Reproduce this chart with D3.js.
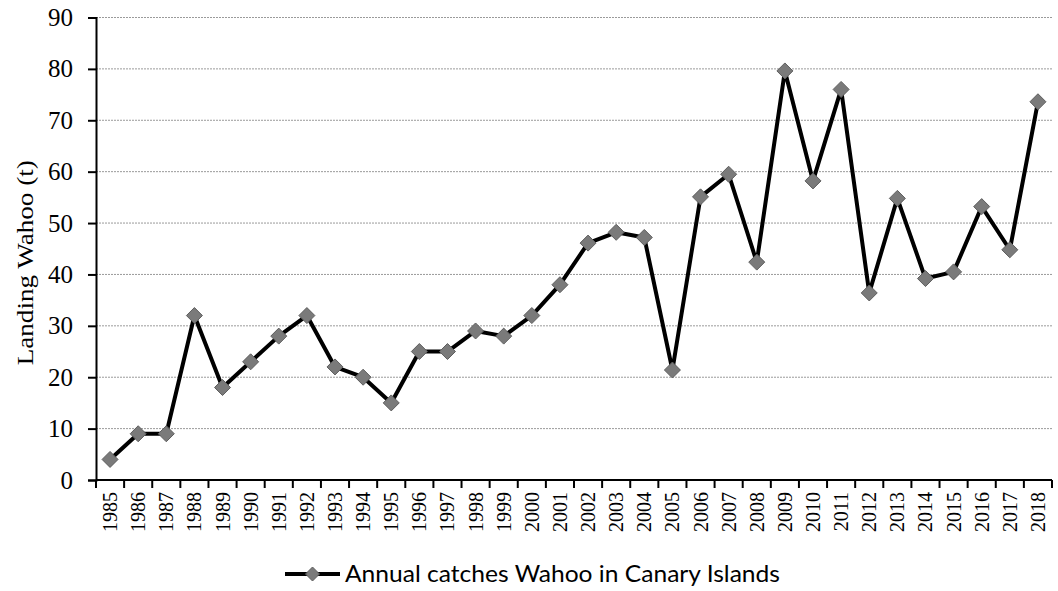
<!DOCTYPE html>
<html><head><meta charset="utf-8">
<script src="https://cdn.jsdelivr.net/npm/d3@7"></script>
<style>body{margin:0;background:#fff}svg{display:block}</style>
</head><body>
<svg id="c" width="1058" height="591"></svg>
<script>
const years = ["1985","1986","1987","1988","1989","1990","1991","1992","1993","1994","1995","1996","1997","1998","1999","2000","2001","2002","2003","2004","2005","2006","2007","2008","2009","2010","2011","2012","2013","2014","2015","2016","2017","2018"];
const catches = [4,9,9,32,18,23,28,32,22,20,15,25,25,29,28,32,38,46.1,48.2,47.2,21.4,55.1,59.5,42.4,79.6,58.2,76,36.4,54.8,39.2,40.5,53.2,44.8,73.6];
const yTicks = [0,10,20,30,40,50,60,70,80,90];
const seriesName = "Annual catches Wahoo in Canary Islands";
const yLabel = "Landing Wahoo (t)";

const svg = d3.select("#c");
const L = 96, R = 1052, T = 17.5, B = 480;
const x = d3.scaleBand().domain(years).range([L, R]);
const y = d3.scaleLinear().domain([0, 90]).range([B, T]);

// gridlines
svg.append("g").selectAll("line").data(yTicks.filter(d => d > 0)).join("line")
  .attr("x1", L).attr("x2", R).attr("y1", d => y(d)).attr("y2", d => y(d))
  .attr("stroke", "#9a9a9a").attr("stroke-width", 1).attr("stroke-dasharray", "2,1");

// y axis
const ya = svg.append("g").attr("transform", `translate(${L},0)`)
  .call(d3.axisLeft(y).tickValues(yTicks).tickSize(8).tickPadding(15));
ya.select(".domain").attr("stroke", "#000").attr("stroke-width", 2);
ya.selectAll(".tick line").attr("stroke", "#000").attr("stroke-width", 2);
ya.selectAll(".tick text").attr("font-family", "'Liberation Serif', serif").attr("font-size", 25).attr("fill", "#000");

// x axis baseline + ticks between categories
const xa = svg.append("g");
xa.append("line").attr("x1", L).attr("x2", R).attr("y1", B).attr("y2", B).attr("stroke", "#000").attr("stroke-width", 2);
const bounds = years.map(d => x(d)).concat([R]);
xa.selectAll("line.t").data(bounds).join("line").attr("class", "t")
  .attr("x1", d => d).attr("x2", d => d).attr("y1", B).attr("y2", B + 8)
  .attr("stroke", "#000").attr("stroke-width", 2);
xa.selectAll("text").data(years).join("text")
  .attr("transform", d => `translate(${x(d) + x.bandwidth() / 2 + 7},${B + 12}) rotate(-90)`)
  .attr("text-anchor", "end")
  .attr("font-family", "'Liberation Serif', serif").attr("font-size", 20).attr("fill", "#000")
  .text(d => d);

// y label
svg.append("text").attr("transform", `translate(33,${(T + B) / 2 + 14}) rotate(-90)`)
  .attr("text-anchor", "middle").attr("font-family", "'Liberation Serif', serif").attr("font-size", 24)
  .attr("textLength", 205).attr("lengthAdjust", "spacingAndGlyphs")
  .text(yLabel);

// line
const cx = d => x(d) + x.bandwidth() / 2;
svg.append("path").datum(catches.map((v, i) => [years[i], v]))
  .attr("fill", "none").attr("stroke", "#000").attr("stroke-width", 4).attr("stroke-linejoin", "round")
  .attr("d", d3.line().x(d => cx(d[0])).y(d => y(d[1])));

svg.append("g").selectAll("path").data(catches).join("path")
  .attr("transform", (d, i) => `translate(${cx(years[i])},${y(d)})`)
  .attr("d", "M0,-8L8,0L0,8L-8,0Z")
  .attr("fill", "#7a7a7a").attr("stroke", "#5e5e5e").attr("stroke-width", 1);

// legend
const lg = svg.append("g").attr("transform", "translate(285,574)");
lg.append("line").attr("x1", 0).attr("x2", 55).attr("y1", 0).attr("y2", 0).attr("stroke", "#000").attr("stroke-width", 4);
lg.append("path").attr("transform", "translate(27.5,0)").attr("d", "M0,-7L7,0L0,7L-7,0Z")
  .attr("fill", "#7a7a7a").attr("stroke", "#5e5e5e").attr("stroke-width", 1);
lg.append("text").attr("x", 60).attr("y", 8).attr("font-family", "Lato, 'Open Sans', sans-serif").attr("font-size", 24)
  .attr("textLength", 435).attr("lengthAdjust", "spacingAndGlyphs")
  .attr("fill", "#000").text(seriesName);
</script>
</body></html>
